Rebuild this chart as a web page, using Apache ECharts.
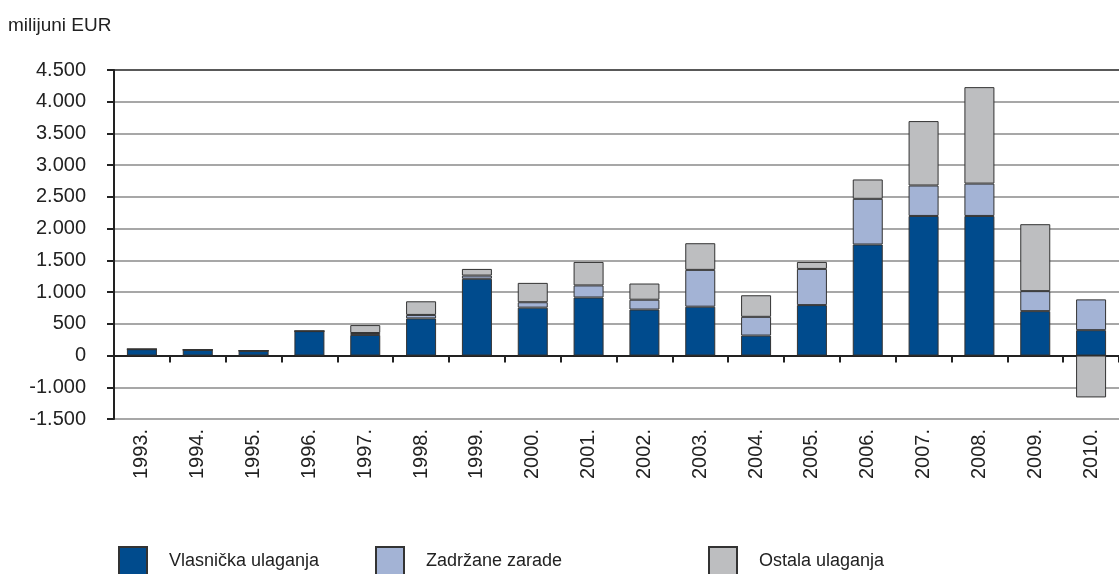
<!DOCTYPE html>
<html>
<head>
<meta charset="utf-8">
<script src="https://cdn.jsdelivr.net/npm/echarts@6/dist/echarts.min.js"></script>
<style>
  html, body { margin: 0; padding: 0; background: #fff; }
  #chart { width: 1119px; height: 574px; }
</style>
</head>
<body>
<div id="chart"></div>
<script>
(function () {
    var years = ['1993.', '1994.', '1995.', '1996.', '1997.', '1998.', '1999.', '2000.', '2001.',
        '2002.', '2003.', '2004.', '2005.', '2006.', '2007.', '2008.', '2009.', '2010.'];
    // Vlasnička ulaganja
    var equity = [100, 90, 75, 385, 325, 585, 1210, 755, 915, 725, 770, 315, 795, 1750, 2200, 2200, 700, 400];
    // Zadržane zarade
    var retained = [0, 0, 0, 0, 30, 55, 50, 85, 190, 155, 580, 295, 570, 720, 480, 510, 315, 485];
    // Ostala ulaganja
    var other = [0, 0, 0, 0, 125, 215, 105, 305, 370, 255, 420, 340, 110, 305, 1015, 1520, 1055, -660];
    // y tick labels as printed, bottom to top
    var yTickLabels = ['-1.500', '-1.000', '0', '500', '1.000', '1.500', '2.000', '2.500',
        '3.000', '3.500', '4.000', '4.500'];

    var font = '"Liberation Sans", Arial, sans-serif';
    var myChart = echarts.init(document.getElementById('chart'));

    var gridColors = [];
    for (var i = 0; i < yTickLabels.length - 1; i++) gridColors.push('#8a8a8a');
    gridColors.push('#222');

    function legend(name, left) {
        return {
            data: [name],
            left: left,
            top: 541,
            itemWidth: 28,
            itemHeight: 28,
            icon: 'rect',
            textStyle: {fontFamily: font, fontSize: 18, color: '#222', padding: [0, 0, 0, 17]}
        };
    }

    var option = {
        animation: false,
        title: {
            text: 'milijuni EUR',
            left: 3,
            top: 11,
            textStyle: {fontFamily: font, fontSize: 19, fontWeight: 'normal', color: '#222'}
        },
        legend: [
            legend('Vlasnička ulaganja', 113),
            legend('Zadržane zarade', 370),
            legend('Ostala ulaganja', 703)
        ],
        grid: {left: 114, right: -11, top: 70, bottom: 155, containLabel: false},
        xAxis: [
            {
                type: 'category',
                data: years,
                position: 'bottom',
                axisLine: {show: false, onZero: false},
                axisTick: {show: false},
                axisLabel: {rotate: 90, margin: 10, fontFamily: font, fontSize: 20, color: '#222'}
            },
            {
                type: 'category',
                data: years,
                position: 'top',
                axisLine: {show: true, onZero: true, lineStyle: {color: '#222', width: 2}},
                axisTick: {show: true, inside: true, length: 7, lineStyle: {color: '#222', width: 2}},
                axisLabel: {show: false}
            }
        ],
        yAxis: {
            type: 'value',
            min: -1000,
            max: 4500,
            interval: 500,
            axisLine: {show: true, lineStyle: {color: '#222', width: 2}},
            axisTick: {show: true, length: 7, lineStyle: {color: '#222', width: 2}},
            splitLine: {lineStyle: {color: gridColors, width: 1.5}},
            axisLabel: {
                margin: 28,
                fontFamily: font,
                fontSize: 20,
                color: '#222',
                formatter: function (v) {
                    return yTickLabels[Math.round((v + 1000) / 500)];
                }
            }
        },
        series: [
            {
                name: 'Vlasnička ulaganja', type: 'bar', stack: 'fdi', barWidth: 30,
                itemStyle: {color: '#004B8D', borderColor: '#333', borderWidth: 1},
                data: equity
            },
            {
                name: 'Zadržane zarade', type: 'bar', stack: 'fdi', barWidth: 30,
                itemStyle: {color: '#A3B3D5', borderColor: '#333', borderWidth: 1},
                data: retained
            },
            {
                name: 'Ostala ulaganja', type: 'bar', stack: 'fdi', barWidth: 30,
                itemStyle: {color: '#BDBEC0', borderColor: '#333', borderWidth: 1},
                data: other
            }
        ]
    };

    myChart.setOption(option);
})();
</script>
</body>
</html>
